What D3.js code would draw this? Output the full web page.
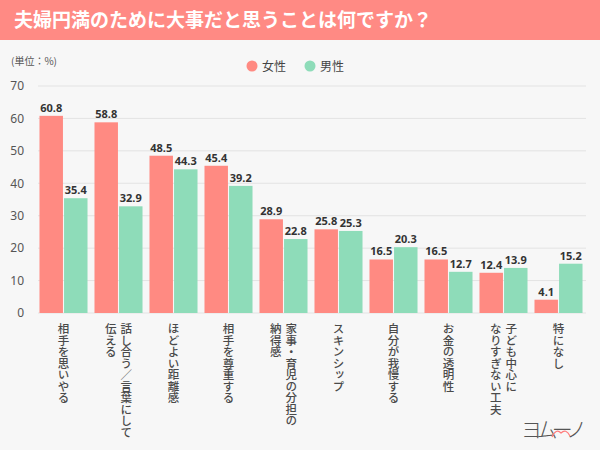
<!DOCTYPE html>
<html>
<head>
<meta charset="utf-8">
<script src="https://cdn.jsdelivr.net/npm/d3@7"></script>
<style>
  body { margin: 0; background: #f7f7f7; }
  svg { display: block; font-family: "Noto Sans CJK JP", "Noto Sans", sans-serif; }
</style>
</head>
<body>
<div id="chart"></div>
<script>
// labels are split into columns (vertical text, first column on the right)
const categories = [
  ["相手を思いやる"],
  ["話し合う／言葉にして", "伝える"],
  ["ほどよい距離感"],
  ["相手を尊重する"],
  ["家事・育児の分担の", "納得感"],
  ["スキンシップ"],
  ["自分が我慢する"],
  ["お金の透明性"],
  ["子ども中心に", "なりすぎない工夫"],
  ["特になし"]
];
const female = [60.8, 58.8, 48.5, 45.4, 28.9, 25.8, 16.5, 16.5, 12.4, 4.1];
const male = [35.4, 32.9, 44.3, 39.2, 22.8, 25.3, 20.3, 12.7, 13.9, 15.2];
const seriesNames = ["女性", "男性"];
const yTicks = [0, 10, 20, 30, 40, 50, 60, 70];

const width = 600, height = 450;
const colors = { "女性": "#ff8a82", "男性": "#8edcb9" };

const svg = d3.select("#chart").append("svg")
  .attr("width", width)
  .attr("height", height);

svg.append("rect").attr("width", width).attr("height", height).attr("fill", "#f7f7f7");

// title bar
svg.append("rect").attr("width", width).attr("height", 40).attr("fill", "#ff8a84");
svg.append("text")
  .attr("x", 14).attr("y", 27)
  .attr("fill", "#fff")
  .attr("font-size", 19).attr("font-weight", 700)
  .text("夫婦円満のために大事だと思うことは何ですか？");

svg.append("text")
  .attr("x", 11).attr("y", 65)
  .attr("fill", "#555").attr("font-size", 10)
  .text("(単位：%)");

// legend
const legend = svg.append("g");
const legendX = [252, 310];
seriesNames.forEach((name, i) => {
  legend.append("circle").attr("cx", legendX[i]).attr("cy", 66).attr("r", 5.5).attr("fill", colors[name]);
  legend.append("text").attr("x", legendX[i] + 10).attr("y", 70.5)
    .attr("font-size", 12).attr("fill", "#444").text(name);
});

const y = d3.scaleLinear().domain([0, 70]).range([313, 86]);
const x = d3.scaleBand().domain(d3.range(categories.length))
  .range([36, 586]).paddingInner(0.127).paddingOuter(0.0635);
const xSub = d3.scaleBand().domain(seriesNames).range([0, x.bandwidth()]).paddingInner(0.045);

// grid
svg.append("g").selectAll("line").data(yTicks).join("line")
  .attr("x1", 38).attr("x2", 586)
  .attr("y1", d => y(d)).attr("y2", d => y(d))
  .attr("stroke", "#e3e3e3").attr("stroke-width", 1);

const yAxis = svg.append("g")
  .attr("transform", "translate(24,0)")
  .call(d3.axisLeft(y).tickValues(yTicks).tickSize(0).tickPadding(0));
yAxis.select(".domain").remove();
yAxis.selectAll("text").attr("font-size", 12).attr("fill", "#555")
  .attr("font-family", "\"Noto Sans\", sans-serif");

// bars
const groups = svg.append("g").selectAll("g").data(categories).join("g")
  .attr("transform", (d, i) => `translate(${x(i)},0)`);

groups.each(function (d, i) {
  const g = d3.select(this);
  const vals = [
    { key: "女性", v: female[i] },
    { key: "男性", v: male[i] }
  ];
  g.selectAll("rect").data(vals).join("rect")
    .attr("x", e => xSub(e.key))
    .attr("width", xSub.bandwidth())
    .attr("y", e => y(e.v))
    .attr("height", e => y(0) - y(e.v))
    .attr("fill", e => colors[e.key]);
  g.selectAll("text.val").data(vals).join("text")
    .attr("class", "val")
    .attr("x", e => xSub(e.key) + xSub.bandwidth() / 2)
    .attr("y", e => y(e.v) - 4)
    .attr("text-anchor", "middle")
    .attr("font-size", 11).attr("font-weight", 700).attr("fill", "#333")
    .attr("font-family", "\"Noto Sans\", sans-serif")
    .text(e => e.v.toFixed(1));

  // vertical category label
  const cx = x.bandwidth() / 2;
  const colGap = 15.5;
  d.forEach((line, j) => {
    const off = (d.length - 1) / 2 * colGap - j * colGap;
    g.append("text")
      .attr("x", cx + off).attr("y", 323)
      .attr("font-size", 11.5).attr("font-weight", 500).attr("fill", "#4a4a4a")
      .style("writing-mode", "vertical-rl")
      .text(line);
  });
});

// logo
const logo = svg.append("g");
logo.append("text")
  .attr("x", 521).attr("y", 437)
  .attr("font-size", 21).attr("font-weight", 300).attr("fill", "#555")
  .attr("textLength", 66)
  .text("ヨムーノ");
logo.append("path")
  .attr("d", "M552,437 Q556,428 561,433 Q566,428 570,436")
  .attr("fill", "none").attr("stroke", "#ff7b7b").attr("stroke-width", 1.2);
</script>
</body>
</html>
